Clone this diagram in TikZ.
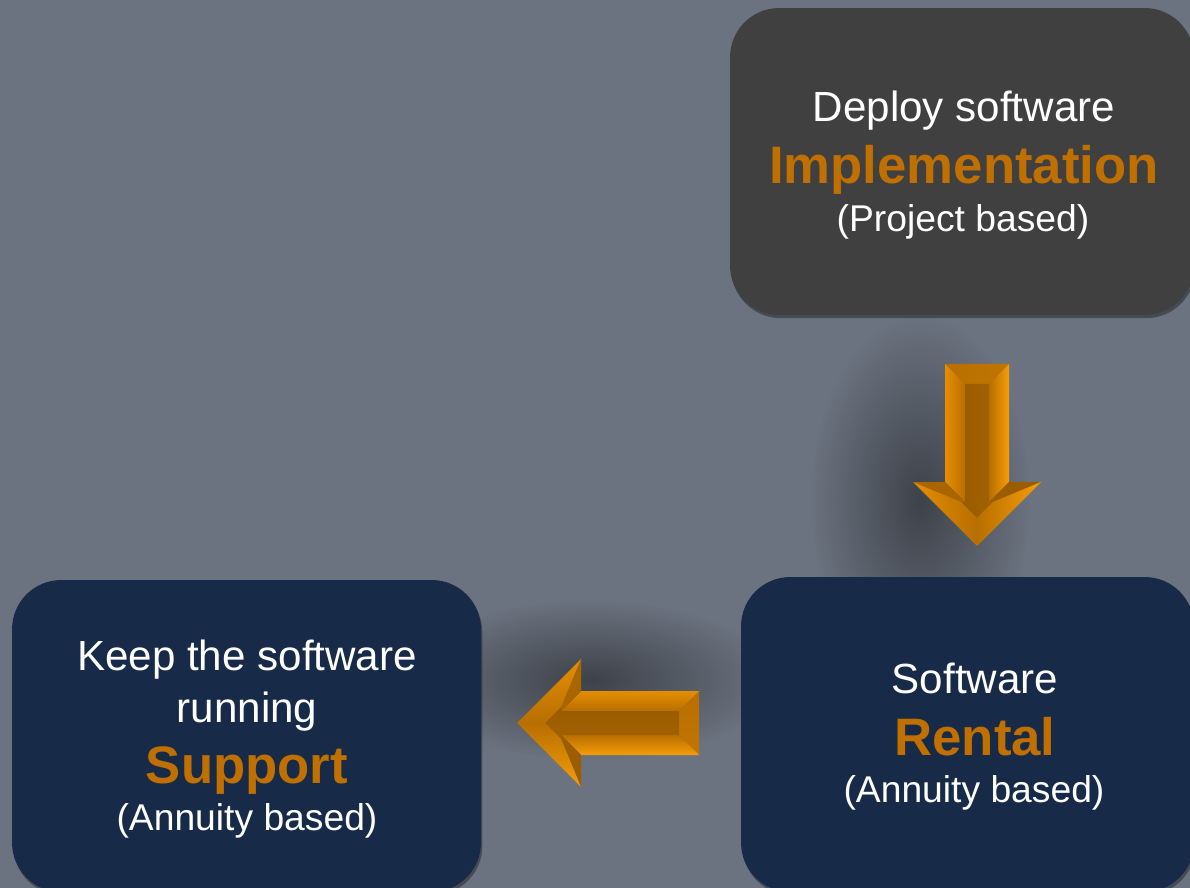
\documentclass[tikz,border=0pt]{standalone}
\usepackage{fontspec}
\setmainfont{Liberation Sans}
\usetikzlibrary{fadings}

\definecolor{slide}{HTML}{6B7380}
\definecolor{boxgray}{HTML}{404040}
\definecolor{boxnavy}{HTML}{172A47}
\definecolor{textorange}{HTML}{C07000}
\definecolor{arrbright}{HTML}{F69D08}
\definecolor{arrwarm}{HTML}{E68E00}
\definecolor{arrmid}{HTML}{B86F00}
\definecolor{arrdark}{HTML}{9A5B00}
\definecolor{arrbase}{HTML}{A86500}

\tikzfading[name=softspot, inner color=transparent!0, outer color=transparent!100]

\begin{document}
\begin{tikzpicture}[x=0.02cm, y=-0.02cm,
    box/.style={rounded corners=28pt, inner sep=0pt,
        preaction={fill=black, opacity=0.35, transform canvas={xshift=0.8pt, yshift=-1.8pt}}},
    graybox/.style={box, fill=boxgray},
    navybox/.style={box, fill=boxnavy},
    plainline/.style={anchor=base, text=white, font=\fontsize{24}{29}\selectfont},
    smallline/.style={anchor=base, text=white, font=\fontsize{21.2}{26}\selectfont},
    keyline/.style={anchor=base, text=textorange, font=\fontsize{30}{36}\selectfont\bfseries},
    spot/.style={fill=black, opacity=0.42, path fading=softspot},
    arrowangle/.store in=\arrowangle, arrowangle=90,
    facet/.style 2 args={top color=#1, bottom color=#2, shading angle=\arrowangle},
    pics/blockarrow/.style={code={
        % bevel faces (tip at origin, pointing down)
        \shade[facet={arrmid}{arrmid!85!arrbright}] (-32,-182) -- (32,-182) -- (12,-162) -- (-12,-162) -- cycle;
        \shade[facet={arrwarm}{arrmid}] (-32,-182) -- (-12,-162) -- (-12,-44) -- (-32,-64) -- cycle;
        \shade[facet={arrmid}{arrbright}] (32,-182) -- (32,-64) -- (12,-44) -- (12,-162) -- cycle;
        \fill[arrbase] (-64,-64) -- (-32,-64) -- (-12,-44) -- (-15.7,-44) -- cycle;
        \fill[arrbase!92!black] (32,-64) -- (64,-64) -- (15.7,-44) -- (12,-44) -- cycle;
        \shade[facet={arrwarm}{arrmid}] (0,0) -- (-64,-64) -- (-15.7,-44) -- (0,-28.3) -- cycle;
        \shade[facet={arrmid}{arrbright}] (64,-64) -- (0,0) -- (0,-28.3) -- (15.7,-44) -- cycle;
        \shade[facet={arrdark}{arrdark!70!arrmid}] (-12,-162) -- (12,-162) -- (12,-44) -- (15.7,-44)
            -- (0,-28.3) -- (-15.7,-44) -- (-12,-44) -- cycle;
    }}]
    % Background
    \fill[slide] (0,0) rectangle (1190,888);
    \clip (0,0) rectangle (1190,888);

    % Shadows under the arrows
    \fill[spot] (920,500) ellipse [x radius=110, y radius=185];
    \fill[spot] (590,680) ellipse [x radius=185, y radius=80];

    % Boxes
    \node[graybox, minimum width=9.28cm, minimum height=6.14cm] (impl) at (962,161.5) {};
    \node[navybox, minimum width=9.06cm, minimum height=6.3cm] (rental) at (967.5,734.5) {};
    \node[navybox, minimum width=9.38cm, minimum height=6.24cm] (support) at (246.5,736) {};

    % Texts
    \node[plainline] (impl1) at (964,122) {Deploy software};
    \node[keyline] (impl2) at (964,184) {Implementation};
    \node[smallline] (impl3) at (963,232) {(Project based)};

    \node[plainline] (rental1) at (975,693) {Software};
    \node[keyline] (rental2) at (975,755) {Rental};
    \node[smallline] (rental3) at (974,802) {(Annuity based)};

    \node[plainline] (support1) at (247,670) {Keep the software};
    \node[plainline] (support2) at (247,722) {running};
    \node[keyline] (support3) at (247,783) {Support};
    \node[smallline] (support4) at (247,830) {(Annuity based)};

    % Arrows
    \coordinate (tipdown) at (977,546);
    \coordinate (tipleft) at (517,723);
    \pic at (tipdown) {blockarrow};
    \pic[rotate=-90, arrowangle=0] at (tipleft) {blockarrow};
\end{tikzpicture}
\end{document}
